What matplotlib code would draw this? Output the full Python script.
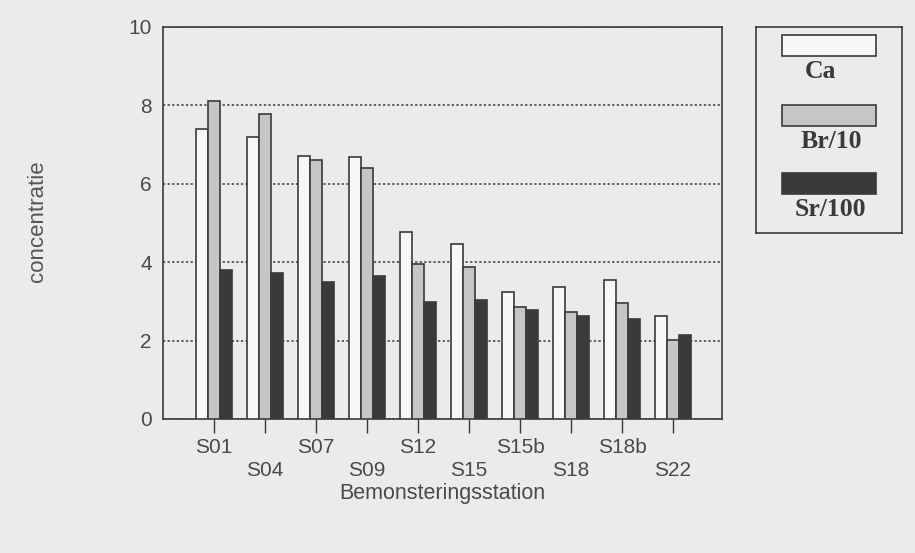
import matplotlib
matplotlib.use("Agg")
import matplotlib.pyplot as plt
import numpy as np
from matplotlib.patches import Rectangle

stations = ["S01", "S04", "S07", "S09", "S12", "S15", "S15b", "S18", "S18b", "S22"]
ca = [7.39, 7.19, 6.71, 6.69, 4.78, 4.47, 3.25, 3.36, 3.55, 2.64]
br10 = [8.10, 7.79, 6.61, 6.40, 3.96, 3.87, 2.85, 2.74, 2.95, 2.02]
sr100 = [3.79, 3.73, 3.49, 3.64, 2.99, 3.03, 2.79, 2.62, 2.55, 2.14]
series_labels = ["Ca", "Br/10", "Sr/100"]
yticks = [0, 2, 4, 6, 8, 10]

BG = "#ebebeb"
TXT = "#4a4a4a"
EDGE = "#3a3a3a"
colors = ["#f7f7f7", "#c6c6c6", "#3a3a3a"]

plt.rcParams['font.family'] = ['Liberation Sans', 'DejaVu Sans']

fig = plt.figure(figsize=(9.15, 5.53), dpi=100, facecolor=BG)
ax = fig.add_axes([163/915, 1 - 419/553, (722-163)/915, (419-27)/553])
ax.set_facecolor(BG)

x = np.arange(len(stations))
w = 0.235
for i, (vals, c) in enumerate(zip([ca, br10, sr100], colors)):
    ax.bar(x + (i - 1) * w, vals, width=w, color=c, edgecolor=EDGE,
           linewidth=1.2, zorder=3)

ax.set_xlim(-1.0, 9.96)
ax.set_ylim(0, 10)
ax.set_yticks(yticks)
ax.set_yticklabels([str(v) for v in yticks])
ax.yaxis.grid(True, linestyle=(0, (1.5, 1.5)), color="#3a3a3a", linewidth=1.1, zorder=0)
ax.set_axisbelow(True)

ax.set_xticks(x)
ax.set_xticklabels(stations)
ax.tick_params(axis='x', length=10, width=1.0, color=EDGE, labelsize=15, labelcolor=TXT, pad=4)
ax.tick_params(axis='y', length=0, labelsize=15, labelcolor=TXT, pad=8)
for i, t in enumerate(ax.xaxis.get_major_ticks()):
    if i % 2 == 1:
        t.set_pad(4 + 16.5)

for s in ax.spines.values():
    s.set_color(EDGE)
    s.set_linewidth(1.2)

ax.set_xlabel("Bemonsteringsstation", fontsize=15.5, color=TXT, labelpad=2)
fig.text(38/915, 1 - 221/553, "concentratie", rotation=90, ha='center', va='center',
         fontsize=16, color="#555555")

# legend
lax = fig.add_axes([756/915, 1 - 233/553, 146/915, 206/553])
lax.set_xlim(0, 146)
lax.set_ylim(206, 0)
lax.set_facecolor(BG)
lax.set_xticks([])
lax.set_yticks([])
for s in lax.spines.values():
    s.set_color(EDGE)
    s.set_linewidth(1.2)
rect_y = [8, 78, 146]
label_pos = [(65, 44), (75, 115), (74, 183)]
for c, ry, lab, (lx, ly) in zip(colors, rect_y, series_labels, label_pos):
    lax.add_patch(Rectangle((26, ry), 94, 21, facecolor=c, edgecolor=EDGE, linewidth=1.2))
    lax.text(lx, ly, lab, ha='center', va='center', fontsize=18.5, fontweight='bold',
             family=['Liberation Serif', 'DejaVu Serif'], color="#3a3a3a")

fig.savefig("out.png", dpi=100, facecolor=BG)
